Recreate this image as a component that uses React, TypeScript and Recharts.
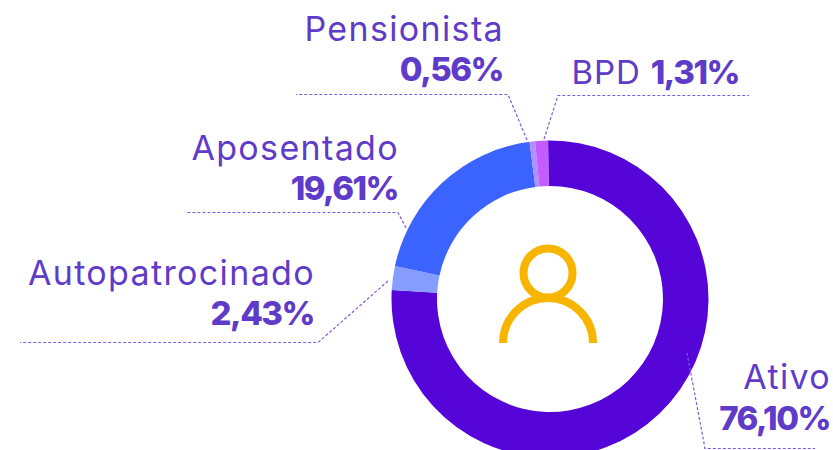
import { Pie, PieChart, Cell } from 'recharts';

const categories = ['Ativo', 'Autopatrocinado', 'Aposentado', 'Pensionista', 'BPD'];
const shares = [76.1, 2.43, 19.61, 0.56, 1.31];
const shareLabels = ['76,10%', '2,43%', '19,61%', '0,56%', '1,31%'];
const colors = ['#5505d8', '#869dff', '#3b63ff', '#b18fff', '#c55cff'];

const data = categories.map((name, i) => ({ name, value: shares[i] }));

const TEXT = '#5f3bc9';
const LEADER = '#7d5cdc';
const FONT = 'Inter, sans-serif';
const CX = 550;
const CY = 299;

// text anchor (right edge, first baseline) and leader path for each slice
const leaders = [
  '687,353 705,448.5 815,448.5',
  '388,281 318,342.5 20,342.5',
  '406,228 398,212.5 185,212.5',
  '527,140 508,94.5 296,94.5',
  '544,139 558,95.5 749,95.5',
];
const textPos = [
  { x: 831, y: 389, y2: 430 },
  { x: 315, y: 285, y2: 325 },
  { x: 399, y: 160, y2: 200 },
  { x: 504, y: 41, y2: 81 },
];

function SliceLabel({ index }: { index: number }) {
  const line = (
    <polyline
      points={leaders[index]}
      fill="none"
      stroke={LEADER}
      strokeWidth={1.2}
      strokeDasharray="3 2"
    />
  );

  // BPD sits on a single line
  if (index === 4) {
    return (
      <g>
        {line}
        <text x={739} y={84} textAnchor="end" fill={TEXT} fontFamily={FONT} fontSize={33}>
          <tspan letterSpacing={0.9}>{categories[index]} </tspan>
          <tspan fontWeight={800} letterSpacing={-1.5}>{shareLabels[index]}</tspan>
        </text>
      </g>
    );
  }

  const pos = textPos[index];
  return (
    <g>
      {line}
      <text x={pos.x} y={pos.y} textAnchor="end" fill={TEXT} fontFamily={FONT} fontSize={34} letterSpacing={1.35}>
        {categories[index]}
      </text>
      <text x={pos.x - 1} y={pos.y2} textAnchor="end" fill={TEXT} fontFamily={FONT} fontSize={33} fontWeight={800} letterSpacing={-1.5}>
        {shareLabels[index]}
      </text>
    </g>
  );
}

export default function App() {
  return (
    <div style={{ position: 'absolute', left: 0, top: 0, width: 833, height: 450, overflow: 'hidden', background: '#fff' }}>
      <PieChart width={833} height={450} margin={{ top: 0, right: 0, bottom: 0, left: 0 }}>
        <Pie
          data={data}
          dataKey="value"
          nameKey="name"
          cx={CX}
          cy={CY}
          innerRadius={113}
          outerRadius={158.5}
          startAngle={90.7}
          endAngle={-269.3}
          stroke="none"
          isAnimationActive={false}
          labelLine={false}
          label={(props: any) => <SliceLabel index={props.index} />}
        >
          {data.map((d, i) => (
            <Cell key={d.name} fill={colors[i]} />
          ))}
        </Pie>
        <g fill="none" stroke="#f7b500" strokeWidth={8}>
          <circle cx={548} cy={273} r={24.5} />
          <path d="M503 343 A45 45 0 0 1 593 343" />
        </g>
      </PieChart>
    </div>
  );
}
